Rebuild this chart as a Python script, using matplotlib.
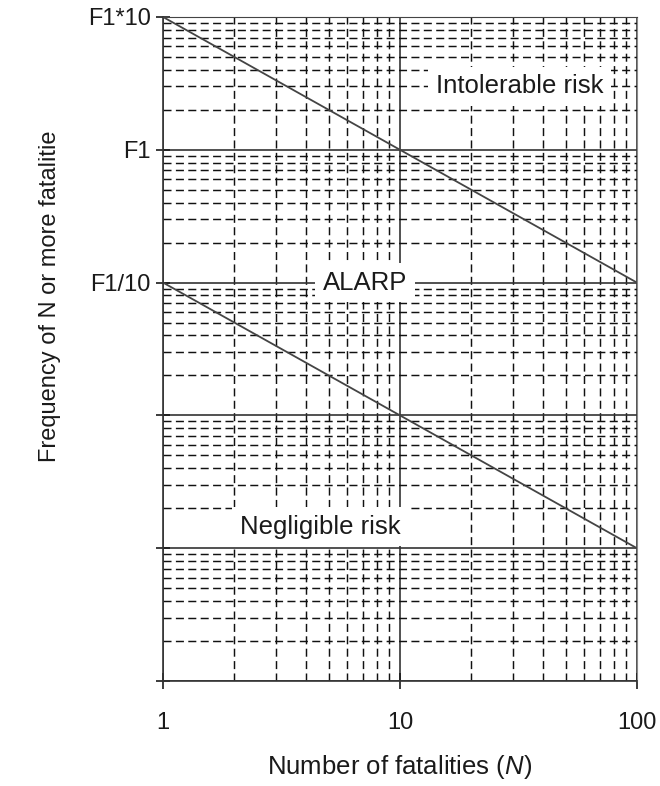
import matplotlib.pyplot as plt
import matplotlib as mpl

mpl.rcParams['font.family'] = ['Liberation Sans', 'DejaVu Sans']
mpl.rcParams['mathtext.fontset'] = 'custom'
mpl.rcParams['mathtext.it'] = 'Liberation Sans:italic'
mpl.rcParams['mathtext.rm'] = 'Liberation Sans'

# F-N criterion lines (frequency relative to F1)
n_range = [1, 100]
upper_freq = [10, 0.1]
lower_freq = [0.1, 0.001]

y_ticks = [10, 1, 0.1, 0.01, 0.001, 0.0001]
y_tick_labels = ['F1*10', 'F1', 'F1/10', '', '', '']
x_ticks = [1, 10, 100]
x_tick_labels = ['1', '10', '100']

region_labels = ['Intolerable risk', 'ALARP', 'Negligible risk']
region_n = [32, 7.1, 4.6]
region_f = [3.0, 0.1, 0.00145]

ink = '#1a1a1a'

fig = plt.figure(figsize=(6.6, 7.86), dpi=100)
ax = fig.add_axes([0.247, 0.1336, 0.718, 0.8448])

ax.set_xscale('log')
ax.set_yscale('log')
ax.set_xlim(1, 100)
ax.set_ylim(0.0001, 10)

# Grid: solid at decades, dashed at the minor subdivisions
ax.grid(True, which='major', linestyle='-', color='#333333', linewidth=1.2, zorder=1)
ax.grid(True, which='minor', linestyle=(0, (5.5, 3)), color='#111111', linewidth=1.05, zorder=1)
ax.set_axisbelow(True)

ax.plot(n_range, upper_freq, color='#444444', linewidth=1.3, zorder=2)
ax.plot(n_range, lower_freq, color='#444444', linewidth=1.3, zorder=2)

for label, n, f in zip(region_labels, region_n, region_f):
    ax.text(n, f, label, ha='center', va='center', fontsize=18.5, color=ink, zorder=3,
            bbox=dict(boxstyle='square,pad=0.3', facecolor='white', edgecolor='none'))

ax.set_xticks(x_ticks)
ax.set_xticklabels(x_tick_labels)
ax.set_yticks(y_ticks)
ax.set_yticklabels(y_tick_labels)
ax.minorticks_on()
ax.tick_params(which='minor', length=0)
ax.tick_params(axis='x', which='major', direction='inout', length=12, width=1.2,
               pad=16, labelsize=17, colors=ink)
ax.tick_params(axis='y', which='major', direction='inout', length=10, width=1.2,
               pad=4, labelsize=17, colors=ink)

for side in ['left', 'bottom']:
    ax.spines[side].set_color('#333333')
    ax.spines[side].set_linewidth(1.2)
ax.spines['top'].set_color('#444444')
ax.spines['right'].set_color('#888888')
ax.spines['right'].set_linewidth(0.8)

ax.set_xlabel('Number of fatalities ($\\it{N}$)', fontsize=18.5, color=ink, labelpad=14)
ax.set_ylabel('Frequency of N or more fatalitie', fontsize=17, color=ink)
ax.yaxis.set_label_coords(-0.215, 0.58)

fig.savefig('out.png', dpi=100)
